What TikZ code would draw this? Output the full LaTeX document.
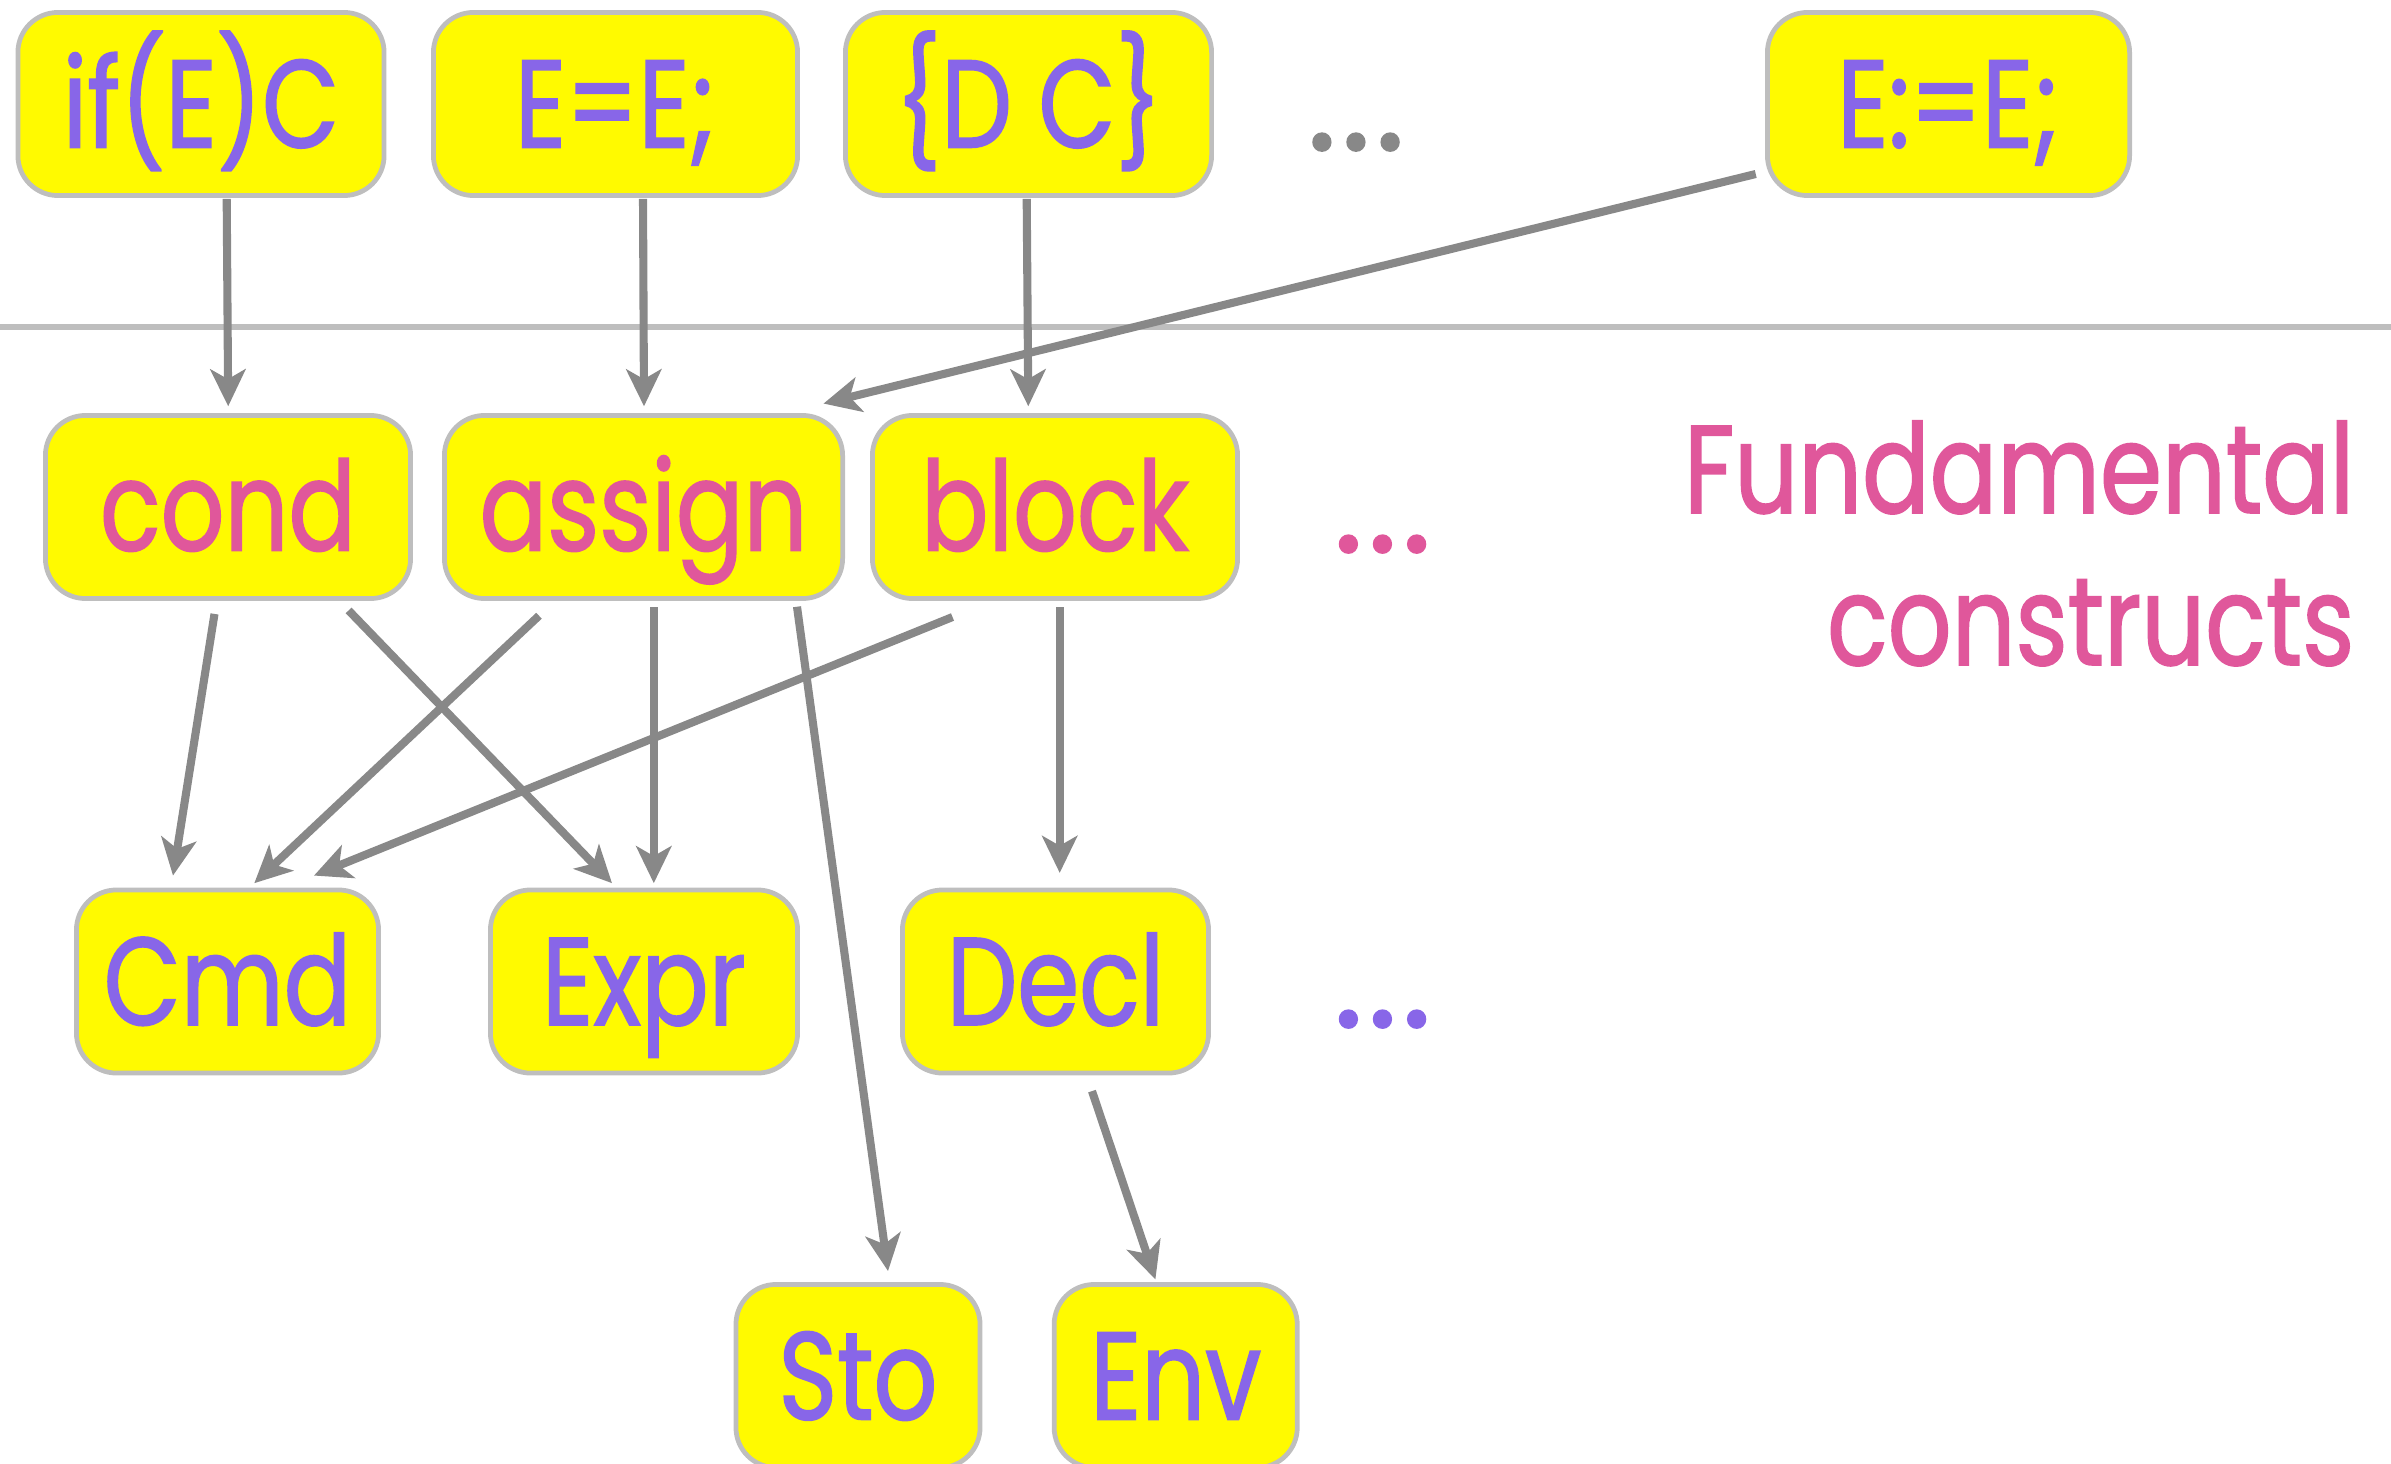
\documentclass[tikz,border=0pt]{standalone}
\usepackage{fontspec}
\setmainfont{Poppins}[FakeStretch=0.8, FakeBold=1.3]
\newfontfamily\dotfont{Poppins}[FakeBold=1.5]
\usetikzlibrary{arrows.meta,calc}
\definecolor{boxfill}{RGB}{255,250,0}
\definecolor{boxline}{RGB}{190,190,190}
\definecolor{arrowgray}{RGB}{136,136,136}
\definecolor{termpurple}{RGB}{136,102,232}
\definecolor{conpink}{RGB}{224,87,155}
\tikzset{
  box/.style={draw=boxline, line width=1.35pt, fill=boxfill, rounded corners=0.4cm,
    inner sep=0pt, minimum height=1.83cm, text height=24.75pt, text depth=0pt,
    font=\fontsize{35.5}{40}\selectfont},
  term/.style={box, text=termpurple},
  construct/.style={box, text=conpink},
  label/.style={inner sep=0pt, anchor=base east, font=\fontsize{35.5}{40}\selectfont, text=conpink},
  dots/.style={inner sep=0pt, anchor=base, font=\dotfont\fontsize{40}{44}\selectfont},
  arr/.style={draw=arrowgray, line width=2.3pt, -{Stealth[length=10.5pt,width=10pt,inset=2.8pt]}},
  sep/.style={draw=boxline, line width=1.5pt}
}
\begin{document}
\begin{tikzpicture}[x=0.01cm, y=-0.01cm]
\clip (0,0) rectangle (2391,1464);

% separator between concrete syntax and fundamental constructs
\coordinate (sepL) at (0,327);
\coordinate (sepR) at (2391,327);
\draw[sep] (sepL) -- (sepR);

% concrete syntax
\node[term, minimum width=3.66cm] (ifc)  at (201,104)    {if(E)C};
\node[term, minimum width=3.64cm] (eqe)  at (615.5,104)  {E=E;};
\node[term, minimum width=3.66cm] (dc)   at (1028.5,104) {\{D C\}};
\node[term, minimum width=3.62cm] (ass0) at (1948.5,104) {E:=E;};
\node[dots, text=arrowgray] (dotsA) at (1356,150) {.\kern1.3pt.\kern1.3pt.};

% fundamental constructs
\node[construct, minimum width=3.65cm] (cond)   at (228,507)    {cond};
\node[construct, minimum width=3.98cm] (assign) at (643.5,507)  {assign};
\node[construct, minimum width=3.65cm] (block)  at (1055,507)   {block};
\node[dots, text=conpink] (dotsB) at (1382.5,552) {.\kern1.3pt.\kern1.3pt.};
\node[label] (fund1) at (2355,513) {Fundamental};
\node[label] (fund2) at (2355,665) {constructs};

% semantic categories
\node[term, minimum width=3.02cm] (cmd)  at (227.5,981.5)  {Cmd};
\node[term, minimum width=3.07cm] (expr) at (644,981.5)    {Expr};
\node[term, minimum width=3.06cm] (decl) at (1055.5,981.5) {Decl};
\node[dots, text=termpurple] (dotsC) at (1382.5,1027) {.\kern1.3pt.\kern1.3pt.};
\node[term, minimum width=2.44cm] (sto) at (858,1376)    {Sto};
\node[term, minimum width=2.43cm] (env) at (1175.7,1376) {Env};

% translations
\draw[arr] ($(ifc.south)+(25.7,1)$)   -- ($(cond.north)+(0.2,-6.8)$);
\draw[arr] ($(eqe.south)+(27.5,1)$)   -- ($(assign.north)+(0.5,-6.8)$);
\draw[arr] ($(dc.south)+(-1.8,1)$)    -- ($(block.north)+(-26.7,-6.8)$);
\draw[arr] ($(ass0.west)+(-9.3,70)$)  -- ($(assign.north)+(180,-9.5)$);

% dependencies
\draw[arr] ($(cond.south)+(-13.5,13)$)    -- ($(cmd.north)+(-54.5,-12)$);
\draw[arr] ($(cond.south)+(120.6,9.5)$)   -- ($(expr.north)+(-32,-4.4)$);
\draw[arr] ($(assign.south)+(-104.5,14.8)$) -- ($(cmd.north)+(26.8,-4.4)$);
\draw[arr] ($(assign.south)+(10.3,6.3)$)  -- ($(expr.north)+(9.8,-4.4)$);
\draw[arr] ($(assign.south)+(153.5,5.8)$) -- ($(sto.north)+(30,-11)$);
\draw[arr] ($(block.south)+(-102.5,16.1)$) -- ($(cmd.north)+(86.5,-12)$);
\draw[arr] ($(block.south)+(4.7,6.3)$)    -- ($(decl.north)+(4.2,-14.7)$);
\draw[arr] ($(decl.south)+(36.5,15.7)$)   -- ($(env.north)+(-20.3,-2.7)$);
\end{tikzpicture}
\end{document}
